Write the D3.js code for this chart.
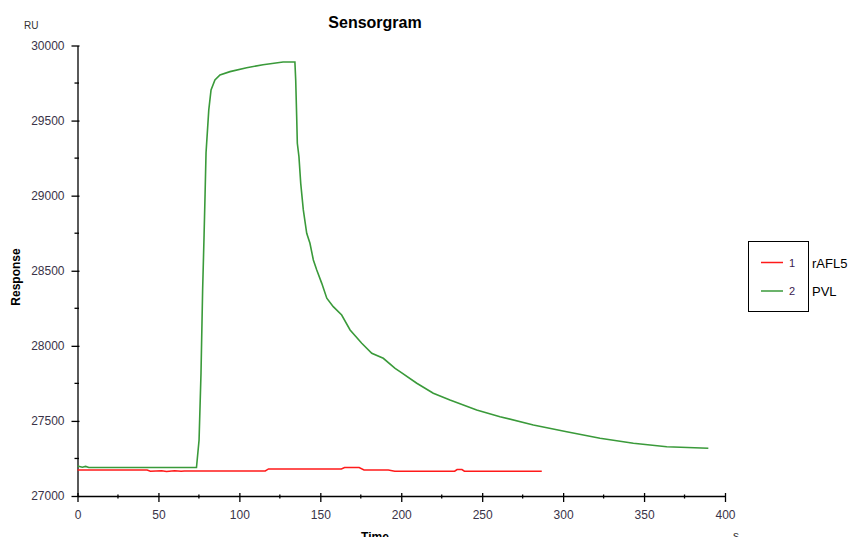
<!DOCTYPE html>
<html><head><meta charset="utf-8">
<script src="https://cdn.jsdelivr.net/npm/d3@7"></script>
<style>
html,body{margin:0;padding:0;background:#fff;}
svg{display:block;font-family:"Liberation Sans",Arial,sans-serif;}
</style></head>
<body><svg id="c" width="853" height="537"></svg>
<script>
const seriesNames = ["rAFL5", "PVL"];
const seriesIds = ["1", "2"];
const seriesColors = ["#ff1a1a", "#3a9a3a"];

const greenTime = [0, 3, 5, 7, 40, 73.5, 75.1, 76.3, 77.3, 78.2, 78.8, 79.4, 81.1, 82.5, 84.9, 88, 94.2, 104.5, 114.6, 127, 134.3, 134.8, 135.4, 135.8, 136.8, 137.9, 139.5, 141.6, 143.6, 145.7, 147.8, 150.9, 154, 158, 163.2, 168.4, 175.6, 181.8, 188.9, 196.2, 199.2, 209.6, 219.8, 230.1, 246.6, 261, 281.6, 302.2, 322.8, 343.4, 364, 389.7];
const greenRU = [27200, 27192, 27197, 27190, 27190, 27190, 27373, 27819, 28372, 28738, 29004, 29284, 29571, 29704, 29770, 29804, 29826, 29852, 29872, 29890, 29890, 29770, 29526, 29349, 29260, 29082, 28905, 28749, 28683, 28572, 28505, 28416, 28317, 28261, 28205, 28106, 28017, 27950, 27917, 27850, 27828, 27751, 27684, 27639, 27573, 27528, 27473, 27428, 27384, 27351, 27328, 27318];

const redTime = [0, 43, 45, 52, 55, 60, 64, 66, 116, 118, 163, 165, 174, 177, 192, 196, 233, 234.5, 237.5, 239, 286.8];
const redRU = [27173, 27173, 27165, 27168, 27164, 27168, 27165, 27167, 27167, 27180, 27180, 27190, 27190, 27173, 27173, 27165, 27165, 27176, 27176, 27165, 27165];

const xMajorTicks = [0, 50, 100, 150, 200, 250, 300, 350, 400];
const xMinorTicks = [25, 75, 125, 175, 225, 275, 325, 375];
const yMajorTicks = [27000, 27500, 28000, 28500, 29000, 29500, 30000];
const yMinorTicks = [27250, 27750, 28250, 28750, 29250, 29750];

const svg = d3.select("#c");
const x = d3.scaleLinear().domain([0, 400]).range([77.5, 725]);
const y = d3.scaleLinear().domain([27000, 30000]).range([496, 45.5]);

// axes
const xAxis = svg.append("g").attr("transform", "translate(0,496)")
  .call(d3.axisBottom(x).tickValues(xMajorTicks).tickSize(6).tickSizeOuter(0).tickPadding(8));
xAxis.select(".domain").attr("stroke", "#000").attr("stroke-width", 1.3);
xAxis.selectAll(".tick line").attr("y1", -3).attr("stroke", "#000").attr("stroke-width", 1.3);
xAxis.selectAll(".tick text").attr("font-size", 12).attr("fill", "#3a3348").attr("font-family", "Liberation Sans, Arial, sans-serif");
svg.append("g").attr("transform", "translate(0,496)")
  .selectAll("line").data(xMinorTicks).join("line")
  .attr("x1", d => x(d)).attr("x2", d => x(d)).attr("y1", -1.5).attr("y2", 2.5)
  .attr("stroke", "#000").attr("stroke-width", 1.3);

const yAxis = svg.append("g").attr("transform", "translate(77.5,0)")
  .call(d3.axisLeft(y).tickValues(yMajorTicks).tickSize(6).tickSizeOuter(0).tickPadding(7).tickFormat(d3.format("d")));
yAxis.select(".domain").attr("stroke", "#000").attr("stroke-width", 1.3);
yAxis.selectAll(".tick line").attr("x1", 2).attr("stroke", "#000").attr("stroke-width", 1.3);
yAxis.selectAll(".tick text").attr("font-size", 12).attr("fill", "#3a3348").attr("font-family", "Liberation Sans, Arial, sans-serif");
svg.append("g").attr("transform", "translate(77.5,0)")
  .selectAll("line").data(yMinorTicks).join("line")
  .attr("y1", d => y(d)).attr("y2", d => y(d)).attr("x1", -3).attr("x2", 1.5)
  .attr("stroke", "#000").attr("stroke-width", 1.3);

// lines
const line = d3.line().x(d => x(d[0])).y(d => y(d[1]));
const redData = redTime.map((t, i) => [t, redRU[i]]);
const greenData = greenTime.map((t, i) => [t, greenRU[i]]);
svg.append("path").datum(redData).attr("d", line).attr("fill", "none")
  .attr("stroke", seriesColors[0]).attr("stroke-width", 1.5);
svg.append("path").datum(greenData).attr("d", line).attr("fill", "none")
  .attr("stroke", seriesColors[1]).attr("stroke-width", 1.6);

// texts
svg.append("text").attr("x", 375).attr("y", 28).attr("text-anchor", "middle")
  .attr("font-size", 16).attr("font-weight", "bold").attr("fill", "#000").text("Sensorgram");
svg.append("text").attr("x", 24).attr("y", 29).attr("font-size", 10).attr("fill", "#333").text("RU");
svg.append("text").attr("transform", "translate(20,277) rotate(-90)").attr("text-anchor", "middle")
  .attr("font-size", 12).attr("font-weight", "bold").attr("fill", "#000").text("Response");
svg.append("text").attr("x", 375).attr("y", 541).attr("text-anchor", "middle")
  .attr("font-size", 12).attr("font-weight", "bold").attr("fill", "#000").text("Time");
svg.append("text").attr("x", 733).attr("y", 540).attr("font-size", 12).attr("fill", "#333").text("s");

// legend
svg.append("rect").attr("x", 748.5).attr("y", 241.5).attr("width", 60).attr("height", 70)
  .attr("fill", "none").attr("stroke", "#000").attr("stroke-width", 1);
const lg = svg.append("g").selectAll("g").data(seriesNames).join("g")
  .attr("transform", (d, i) => `translate(0,${262.5 + i * 28.5})`);
lg.append("line").attr("x1", 761).attr("x2", 783).attr("y1", 0).attr("y2", 0)
  .attr("stroke", (d, i) => seriesColors[i]).attr("stroke-width", 1.5);
lg.append("text").attr("x", 789).attr("y", 4).attr("font-size", 11).attr("fill", "#3a2050")
  .text((d, i) => seriesIds[i]);
lg.append("text").attr("x", 812).attr("y", 5).attr("font-size", 13).attr("fill", "#000")
  .text(d => d);
</script></body></html>
